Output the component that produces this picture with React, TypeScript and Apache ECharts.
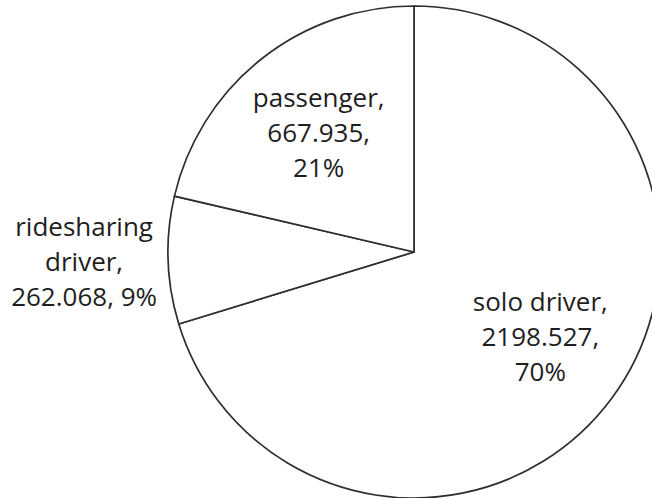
import React, { useEffect, useRef } from "react";
import * as echarts from "echarts";

const categories = ["solo driver", "ridesharing driver", "passenger"];
const values = [2198.527, 262.068, 667.935];
const percentLabels = ["70%", "9%", "21%"];

// label text arrangement (line breaks) and offsets from the default inside position
const labelTemplates = [
  (n: string, v: string, p: string) => `${n},\n${v},\n${p}`,
  (n: string, v: string, p: string) => `${n.replace(" ", "\n")},\n${v}, ${p}`,
  (n: string, v: string, p: string) => `${n},\n${v},\n${p}`,
];
const labelOffsets = [
  [25, 9],
  [-204, 5],
  [-17, -21],
];

export default function App() {
  const ref = useRef<HTMLDivElement>(null);
  useEffect(() => {
    document.body.style.margin = "0";
    const chart = echarts.init(ref.current!, null, { renderer: "svg" });
    chart.setOption({
      animation: false,
      backgroundColor: "#ffffff",
      series: [
        {
          type: "pie",
          center: [414, 252],
          radius: 246,
          startAngle: 90,
          clockwise: true,
          silent: true,
          avoidLabelOverlap: false,
          itemStyle: { color: "#ffffff", borderColor: "#2e2e2e", borderWidth: 1.7 },
          label: {
            show: true,
            position: "inside",
            fontFamily: "Open Sans",
            fontSize: 26,
            lineHeight: 35,
            color: "#1e1e1e",
            align: "center",
            formatter: (p: any) =>
              labelTemplates[p.dataIndex](
                categories[p.dataIndex],
                String(values[p.dataIndex]),
                percentLabels[p.dataIndex]
              ),
          },
          labelLine: { show: false },
          labelLayout: (p: any) => ({
            dx: labelOffsets[p.dataIndex][0],
            dy: labelOffsets[p.dataIndex][1],
          }),
          emphasis: { disabled: true },
          data: categories.map((c, i) => ({ name: c, value: values[i] })),
        },
      ],
    });
    return () => chart.dispose();
  }, []);
  return <div ref={ref} style={{ width: 652, height: 498 }} />;
}
